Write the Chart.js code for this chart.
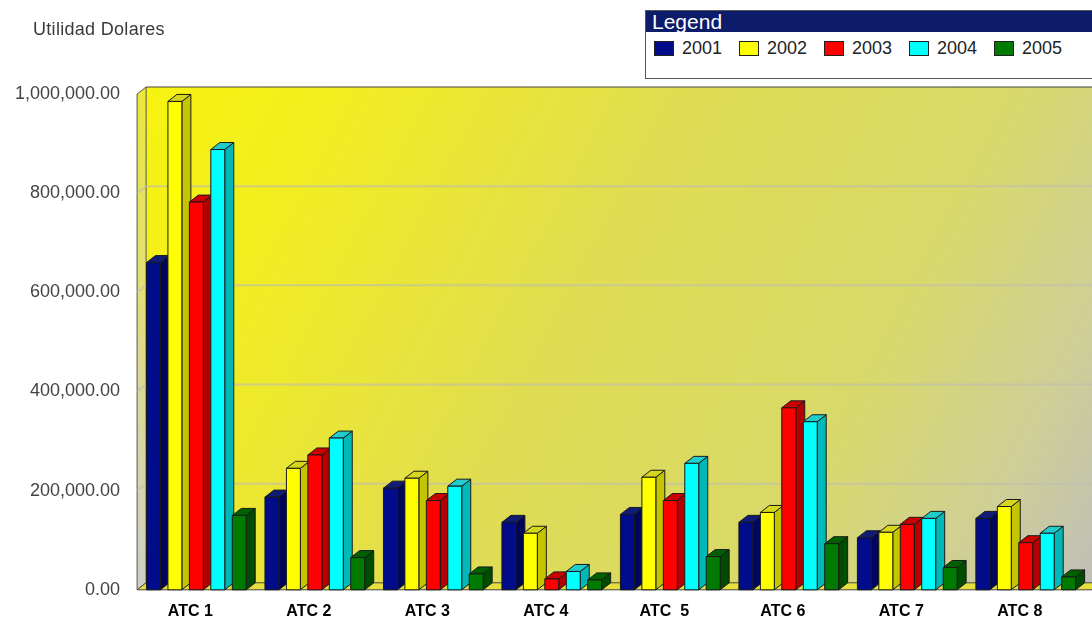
<!DOCTYPE html>
<html>
<head>
<meta charset="utf-8">
<script src="https://cdn.jsdelivr.net/npm/chart.js@4.4.1/dist/chart.umd.min.js"></script>
<style>
  body { margin: 0; background: #fff; font-family: "Liberation Sans", Arial, sans-serif; }
  #wrap { position: relative; width: 1092px; height: 623px; overflow: hidden; }
  #titulo { position: absolute; left: 33px; top: 19px; font-size: 18px; letter-spacing: 0.3px; color: #3a3a3a; }
  #leyenda { position: absolute; left: 645px; top: 10px; width: 470px; height: 67px; border: 1px solid #555; background: #fff; }
  #leyenda .cab { background: #0d1b6b; color: #fff; font-size: 21px; height: 21px; line-height: 21px; padding-left: 6px; }
  #leyenda .items { display: flex; padding: 6px 0 0 8px; }
  .item { display: flex; align-items: center; width: 85px; font-size: 18px; color: #222; }
  .caja { width: 18px; height: 13px; border: 1px solid #222; margin-right: 8px; }
  canvas { position: absolute; left: 0; top: 0; }
</style>
</head>
<body>
<div id="wrap">
  <canvas id="grafico" width="1092" height="623"></canvas>
  <div id="titulo">Utilidad Dolares</div>
  <div id="leyenda"><div class="cab">Legend</div><div class="items" id="items"></div></div>
</div>
<script>
const categorias = ['ATC 1', 'ATC 2', 'ATC 3', 'ATC 4', 'ATC  5', 'ATC 6', 'ATC 7', 'ATC 8'];
const anios = ['2001', '2002', '2003', '2004', '2005'];
const u2001 = [660000, 187000, 205000, 136000, 152000, 136000, 105000, 144000];
const u2002 = [985000, 245000, 225000, 114000, 227000, 156000, 116000, 168000];
const u2003 = [782000, 272000, 180000, 22000, 180000, 367000, 132000, 95000];
const u2004 = [888000, 306000, 209000, 37000, 255000, 339000, 144000, 114000];
const u2005 = [150000, 65000, 32000, 20000, 67000, 93000, 45000, 26000];
const ticksY = [0, 200000, 400000, 600000, 800000, 1000000];

const series = [u2001, u2002, u2003, u2004, u2005];
const colFrente = ['#000c8a', '#ffff00', '#ff0000', '#00ffff', '#007a00'];
const colLado   = ['#00065a', '#c4c400', '#b40000', '#00b8b8', '#004c00'];
const colTecho  = ['#101c78', '#d6d61a', '#cc0000', '#20cccc', '#006000'];

// profundidad del efecto 3D
const P = 9, Q = 7;

// leyenda html
const cont = document.getElementById('items');
anios.forEach((a, i) => {
  const d = document.createElement('div');
  d.className = 'item';
  d.innerHTML = '<span class="caja" style="background:' + colFrente[i] + '"></span>' + a;
  cont.appendChild(d);
});

function poligono(ctx, pts, color) {
  ctx.beginPath();
  ctx.moveTo(pts[0][0], pts[0][1]);
  for (let k = 1; k < pts.length; k++) ctx.lineTo(pts[k][0], pts[k][1]);
  ctx.closePath();
  ctx.fillStyle = color;
  ctx.fill();
  ctx.stroke();
}

// paredes, piso y lineas de la grilla
const fondo3d = {
  id: 'fondo3d',
  beforeDatasetsDraw(chart) {
    const ctx = chart.ctx;
    const { left, right, top, bottom } = chart.chartArea;
    const ys = chart.scales.y;
    ctx.save();
    ctx.lineWidth = 1;
    ctx.strokeStyle = '#555';

    const g = ctx.createLinearGradient(left + P, top - Q, right + P, bottom - Q);
    g.addColorStop(0, '#f7f310');
    g.addColorStop(0.15, '#f2ee1e');
    g.addColorStop(0.45, '#e0dc52');
    g.addColorStop(0.72, '#d8d96a');
    g.addColorStop(0.88, '#cfcf96');
    g.addColorStop(1, '#bfbfb8');
    ctx.fillStyle = g;
    ctx.fillRect(left + P, top - Q, right - left + 20, bottom - top);

    const gl = ctx.createLinearGradient(0, top, 0, bottom);
    gl.addColorStop(0, '#ece83a');
    gl.addColorStop(0.5, '#dedb8a');
    gl.addColorStop(1, '#cfcfc8');
    poligono(ctx, [[left, top], [left + P, top - Q], [left + P, bottom - Q], [left, bottom]], gl);

    ctx.strokeStyle = 'rgba(190,190,175,0.65)';
    ctx.lineWidth = 2;
    ticksY.forEach(v => {
      if (v === 0 || v === ys.max) return;
      const y = ys.getPixelForValue(v);
      ctx.beginPath();
      ctx.moveTo(left, y);
      ctx.lineTo(left + P, y - Q);
      ctx.lineTo(right + P + 20, y - Q);
      ctx.stroke();
    });

    ctx.lineWidth = 1;
    ctx.strokeStyle = '#444';
    poligono(ctx, [[left, bottom], [left + P, bottom - Q], [right + P + 20, bottom - Q], [right + 20, bottom]], '#e6e03c');
    ctx.beginPath();
    ctx.moveTo(left + P, top - Q);
    ctx.lineTo(right + P + 20, top - Q);
    ctx.stroke();
    ctx.restore();
  },
  // barras con cara frontal, lateral y superior
  afterDatasetsDraw(chart) {
    const ctx = chart.ctx;
    ctx.save();
    ctx.lineWidth = 1;
    ctx.strokeStyle = '#1a1a1a';
    chart.data.datasets.forEach((ds, i) => {
      chart.getDatasetMeta(i).data.forEach(bar => {
        const { x, y, base, width } = bar.getProps(['x', 'y', 'base', 'width'], true);
        const x0 = x - width / 2, x1 = x + width / 2;
        poligono(ctx, [[x1, y], [x1 + P, y - Q], [x1 + P, base - Q], [x1, base]], colLado[i]);
        poligono(ctx, [[x0, y], [x0 + P, y - Q], [x1 + P, y - Q], [x1, y]], colTecho[i]);
        poligono(ctx, [[x0, y], [x1, y], [x1, base], [x0, base]], colFrente[i]);
      });
    });
    ctx.restore();
  }
};

new Chart(document.getElementById('grafico').getContext('2d'), {
  type: 'bar',
  data: {
    labels: categorias,
    datasets: series.map((s, i) => ({
      label: anios[i],
      data: s,
      backgroundColor: colFrente[i],
      borderWidth: 0,
      categoryPercentage: 0.905,
      barPercentage: 0.65
    }))
  },
  options: {
    responsive: false,
    animation: false,
    layout: { padding: { top: 94, right: 7, bottom: -10, left: -2 } },
    plugins: { legend: { display: false }, tooltip: { enabled: false } },
    scales: {
      x: {
        grid: { display: false, drawTicks: false },
        border: { display: false },
        ticks: {
          color: '#000',
          padding: 12,
          labelOffset: -6,
          font: { family: '"Liberation Sans", Arial', size: 16, weight: 'bold' }
        }
      },
      y: {
        min: 0,
        max: 1000000,
        grid: { display: false, drawTicks: false },
        border: { display: false },
        afterBuildTicks: axis => { axis.ticks = ticksY.map(v => ({ value: v })); },
        ticks: {
          color: '#444',
          padding: 17,
          font: { family: '"Liberation Sans", Arial', size: 18 },
          callback: v => Number(v).toLocaleString('en-US', { minimumFractionDigits: 2, maximumFractionDigits: 2 })
        }
      }
    }
  },
  plugins: [fondo3d]
});
</script>
</body>
</html>
